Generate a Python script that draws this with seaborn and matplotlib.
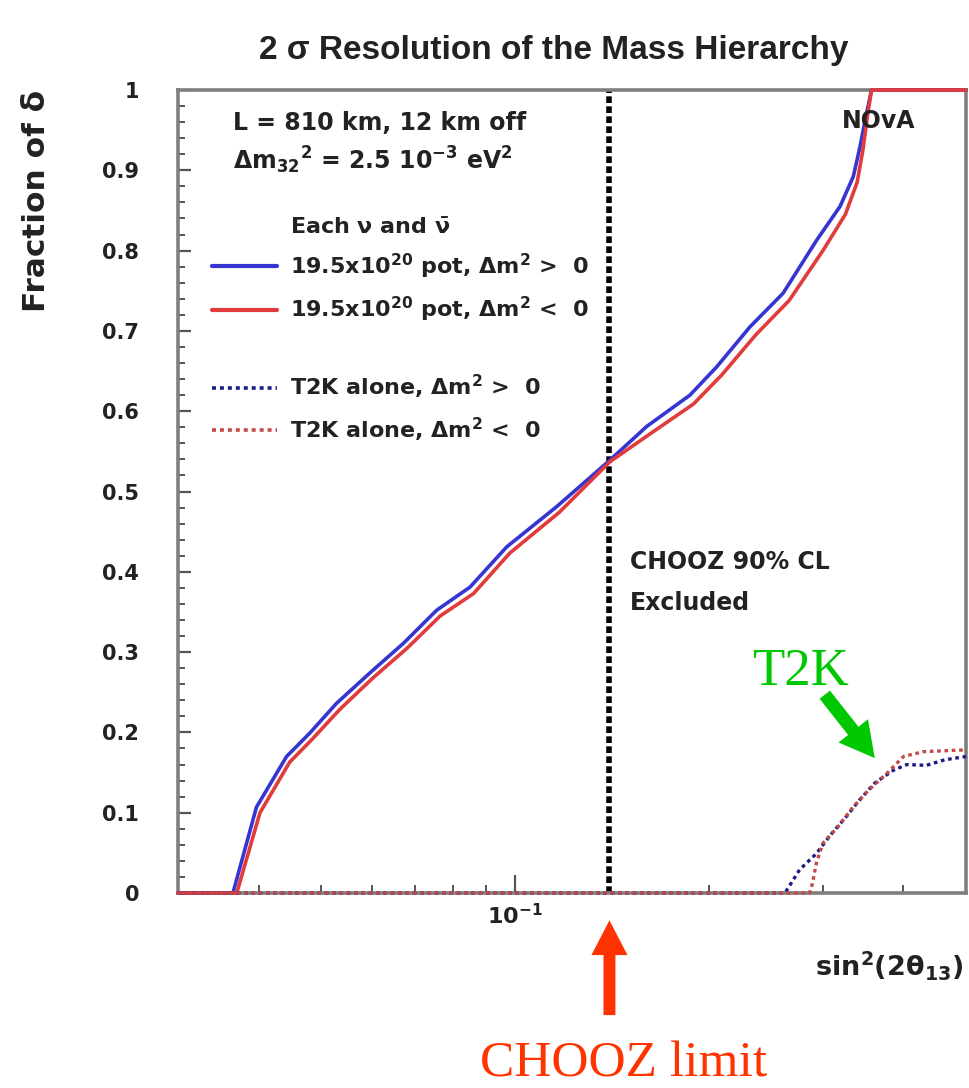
import matplotlib
matplotlib.use("Agg")
import matplotlib.pyplot as plt
import pandas as pd
import seaborn as sns
from matplotlib.lines import Line2D
from matplotlib.ticker import MultipleLocator, FixedLocator, NullFormatter

# --- NOvA 2-sigma hierarchy resolution (19.5e20 pot each nu / nubar) ---
nova_pos_x = [0.030, 0.0365, 0.0397, 0.0442, 0.0480, 0.0528, 0.0595, 0.0671, 0.0755,
              0.0851, 0.0970, 0.1159, 0.1402, 0.1599, 0.1866, 0.2052, 0.2312, 0.2603,
              0.2934, 0.3189, 0.3343, 0.3424, 0.3506, 0.3569, 0.50]
nova_pos_y = [0.0, 0.0, 0.107, 0.170, 0.199, 0.236, 0.274, 0.311, 0.352,
              0.381, 0.431, 0.481, 0.539, 0.581, 0.620, 0.655, 0.705, 0.747,
              0.813, 0.855, 0.892, 0.929, 0.971, 1.0, 1.0]

nova_neg_x = [0.030, 0.0370, 0.0402, 0.0447, 0.0485, 0.0535, 0.0602, 0.0680, 0.0765,
              0.0862, 0.0980, 0.1170, 0.1402, 0.1620, 0.1890, 0.2090, 0.2360, 0.2660,
              0.3000, 0.3250, 0.3390, 0.3460, 0.3520, 0.3569, 0.50]
nova_neg_y = [0.0, 0.0, 0.100, 0.163, 0.192, 0.229, 0.268, 0.305, 0.345,
              0.373, 0.423, 0.474, 0.537, 0.572, 0.609, 0.645, 0.695, 0.738,
              0.800, 0.845, 0.885, 0.925, 0.970, 1.0, 1.0]

# --- T2K alone ---
t2k_pos_x = [0.030, 0.262, 0.276, 0.293, 0.308, 0.326, 0.342, 0.361, 0.386, 0.405,
             0.434, 0.464, 0.500]
t2k_pos_y = [0.0, 0.0, 0.029, 0.049, 0.072, 0.095, 0.116, 0.137, 0.153, 0.160,
             0.159, 0.166, 0.170]

t2k_neg_x = [0.030, 0.286, 0.289, 0.293, 0.300, 0.317, 0.334, 0.353, 0.377, 0.400,
             0.429, 0.489, 0.500]
t2k_neg_y = [0.0, 0.0, 0.012, 0.037, 0.062, 0.083, 0.107, 0.128, 0.149, 0.170,
             0.176, 0.178, 0.178]

chooz_limit = 0.14

series_labels = [r"19.5x10$^{20}$ pot, $\Delta$m$^2$ >  0",
                 r"19.5x10$^{20}$ pot, $\Delta$m$^2$ <  0",
                 r"T2K alone, $\Delta$m$^2$ >  0",
                 r"T2K alone, $\Delta$m$^2$ <  0"]

y_ticks = [0.0, 0.1, 0.2, 0.3, 0.4, 0.5, 0.6, 0.7, 0.8, 0.9, 1.0]
y_tick_labels = ["0", "0.1", "0.2", "0.3", "0.4", "0.5", "0.6", "0.7", "0.8", "0.9", "1"]
x_ticks = [0.1]
x_tick_labels = [r"10$^{-1}$"]

sns.set_theme(style="white")
plt.rcParams["font.family"] = ["DejaVu Sans"]
plt.rcParams["mathtext.fontset"] = "custom"
plt.rcParams["mathtext.rm"] = "DejaVu Sans:bold"
plt.rcParams["mathtext.it"] = "DejaVu Sans:bold"
plt.rcParams["mathtext.bf"] = "DejaVu Sans:bold"

col_pos = "#3535d2"
col_neg = "#e23b3b"
col_t2k_pos = "#1c1c85"
col_t2k_neg = "#c44a4a"
ink = "#222222"

nova = pd.concat([
    pd.DataFrame({"x": nova_pos_x, "y": nova_pos_y, "series": series_labels[0]}),
    pd.DataFrame({"x": nova_neg_x, "y": nova_neg_y, "series": series_labels[1]}),
])
t2k = pd.concat([
    pd.DataFrame({"x": t2k_pos_x, "y": t2k_pos_y, "series": series_labels[2]}),
    pd.DataFrame({"x": t2k_neg_x, "y": t2k_neg_y, "series": series_labels[3]}),
])

fig = plt.figure(figsize=(9.69, 10.88), dpi=100)
ax = fig.add_axes([0.1837, 0.1792, 0.8132, 0.7381])
ax.set_xscale("log")

sns.lineplot(data=nova, x="x", y="y", hue="series",
             palette={series_labels[0]: col_pos, series_labels[1]: col_neg},
             estimator=None, sort=False, legend=False, linewidth=2.6,
             clip_on=False, zorder=3, ax=ax)
sns.lineplot(data=t2k, x="x", y="y", hue="series",
             palette={series_labels[2]: col_t2k_pos, series_labels[3]: col_t2k_neg},
             estimator=None, sort=False, legend=False, linewidth=2.4,
             linestyle=(0, (1.1, 1.1)), clip_on=False, zorder=3, ax=ax)

# CHOOZ 90% CL exclusion boundary
ax.axvline(chooz_limit, color="black", linewidth=4.0, linestyle=(0, (1.2, 0.6)), zorder=2)

ax.set_xlim(0.03, 0.5)
ax.set_ylim(0.0, 1.0)

for s in ax.spines.values():
    s.set_color("#7f7f7f")
    s.set_linewidth(2.6)

ax.set_yticks(y_ticks, y_tick_labels)
ax.yaxis.set_minor_locator(MultipleLocator(0.02))
ax.xaxis.set_major_locator(FixedLocator(x_ticks))
ax.set_xticklabels(x_tick_labels)
ax.xaxis.set_minor_locator(FixedLocator([0.03, 0.04, 0.05, 0.06, 0.07, 0.08, 0.09,
                                         0.2, 0.3, 0.4, 0.5]))
ax.xaxis.set_minor_formatter(NullFormatter())

ax.tick_params(which="both", direction="in", color="#555555", labelcolor=ink,
               top=False, right=False, bottom=True, left=True)
ax.tick_params(axis="y", which="major", length=9, width=1.6, pad=28, labelsize=15)
ax.tick_params(axis="y", which="minor", length=5, width=1.4)
ax.tick_params(axis="x", which="major", length=13, width=1.6, pad=7, labelsize=16)
ax.tick_params(axis="x", which="minor", length=6, width=1.4)
for lab in ax.get_xticklabels() + ax.get_yticklabels():
    lab.set_fontweight("bold")

ax.set_xlabel(r"sin$^2$(2θ$_{13}$)", fontsize=19.5, fontweight="bold", color=ink,
              ha="right", va="center")
ax.xaxis.set_label_coords(0.997, -0.09)
ax.set_ylabel("Fraction of δ", fontsize=22.5, fontweight="bold", color=ink,
              ha="right", va="center")
ax.yaxis.set_label_coords(-0.180, 1.0)

fig.text(0.571, 0.954, "2 σ Resolution of the Mass Hierarchy", fontsize=24,
         family="Liberation Sans", fontweight="bold", color=ink,
         ha="center", va="center")

txt = dict(fontsize=17, fontweight="bold", color=ink, transform=ax.transAxes,
           va="center", ha="left")
ax.text(0.070, 0.959, "L = 810 km, 12 km off", **txt)
ax.text(0.070, 0.913, r"$\Delta$m$_{32}$$^2$ = 2.5 10$^{-3}$ eV$^2$", **txt)
ax.text(0.843, 0.961, "NOvA", **txt)
ax.text(0.574, 0.412, "CHOOZ 90% CL", **txt)
ax.text(0.574, 0.361, "Excluded", **txt)

handles = [
    Line2D([], [], color="none"),
    Line2D([], [], color=col_pos, lw=3.0),
    Line2D([], [], color=col_neg, lw=3.0),
    Line2D([], [], color="none"),
    Line2D([], [], color=col_t2k_pos, lw=2.6, linestyle=(0, (1.1, 1.1))),
    Line2D([], [], color=col_t2k_neg, lw=2.6, linestyle=(0, (1.1, 1.1))),
]
labels = [r"Each $\nu$ and $\bar{\nu}$", series_labels[0], series_labels[1], "",
          series_labels[2], series_labels[3]]
ax.legend(handles, labels, loc="upper left", bbox_to_anchor=(0.043, 0.842),
          frameon=False, borderpad=0, borderaxespad=0, handlelength=2.95,
          handletextpad=0.55, labelspacing=0.64,
          prop={"weight": "bold", "size": 16}, labelcolor=ink)

# Annotations outside / on top of the frame
ax.annotate("", xy=(chooz_limit, -0.034), xycoords=("data", "axes fraction"),
            xytext=(chooz_limit, -0.152), textcoords=("data", "axes fraction"),
            arrowprops=dict(arrowstyle="simple,head_length=25,head_width=26,tail_width=8.6",
                            mutation_scale=1, color="#ff3300", lw=0,
                            shrinkA=0, shrinkB=0),
            annotation_clip=False)
ax.text(0.383, -0.2285, "CHOOZ limit", transform=ax.transAxes, fontsize=37,
        family="Liberation Serif", color="#ff3300", ha="left", va="baseline",
        clip_on=False)

ax.annotate("", xy=(0.361, 0.168), xycoords="data",
            xytext=(0.302, 0.247), textcoords="data",
            arrowprops=dict(arrowstyle="simple,head_length=25,head_width=27,tail_width=9.5",
                            mutation_scale=1, color="#00c800", lw=0,
                            shrinkA=0, shrinkB=0))
ax.text(0.728, 0.259, "T2K", transform=ax.transAxes, fontsize=38,
        family="Liberation Serif", color="#00c800", ha="left", va="baseline")

fig.savefig("out.png", dpi=100)
